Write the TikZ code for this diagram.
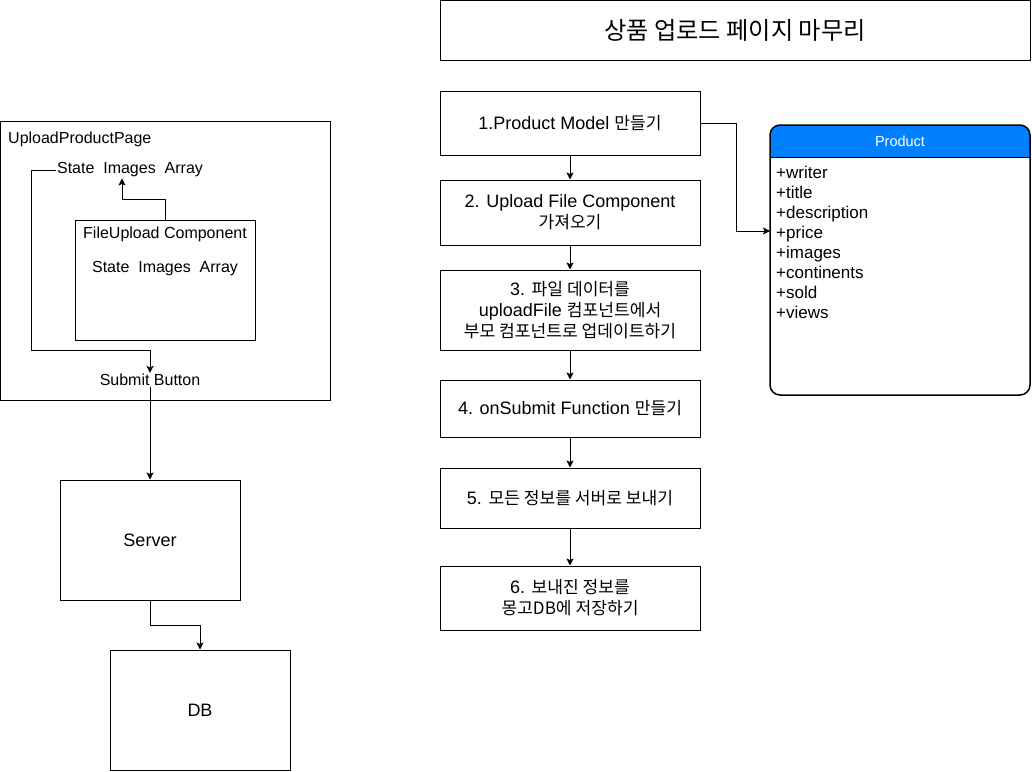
\documentclass[tikz,border=0pt]{standalone}
\usepackage{fontspec}
\setmainfont{Liberation Sans}
\newfontfamily\krfont[Scale=0.95]{Noto Sans CJK KR}
\newcommand{\kr}[1]{{\krfont #1}}
\usetikzlibrary{arrows.meta}
\definecolor{hdr}{RGB}{0,127,255}
\tikzset{
  box/.style={draw=black, line width=1pt, rectangle, inner sep=0pt, align=center, font=\fontsize{18}{21}\selectfont},
  lbl/.style={inner sep=1pt, font=\fontsize{16}{19}\selectfont},
  item/.style={anchor=base west, inner sep=0pt, font=\fontsize{17}{20}\selectfont},
  arr/.style={draw=black, line width=1pt, -{Stealth[length=7pt,width=7pt,inset=1.5pt]}},
  ln/.style={draw=black, line width=1pt}
}
\begin{document}
\begin{tikzpicture}[x=1pt,y=-1pt]
\useasboundingbox (0,0) rectangle (1032,771);
% title
\node[box, minimum width=590, minimum height=60, font=\fontsize{25.5}{30}\selectfont] (title) at (735,30) {\kr{상품 업로드 페이지 마무리}};
% steps
\node[box, minimum width=260, minimum height=64] (s1) at (570,123) {1.Product Model \kr{만들기}};
\node[box, minimum width=260, minimum height=65] (s2) at (570,212.5) {2. Upload File Component\\\kr{가져오기}};
\node[box, minimum width=260, minimum height=80] (s3) at (570,310) {3. \kr{파일 데이터를}\\uploadFile \kr{컴포넌트에서}\\\kr{부모 컴포넌트로 업데이트하기}};
\node[box, minimum width=260, minimum height=57] (s4) at (570,408.5) {4. onSubmit Function \kr{만들기}};
\node[box, minimum width=260, minimum height=60] (s5) at (570,498) {5. \kr{모든 정보를 서버로 보내기}};
\node[box, minimum width=260, minimum height=64] (s6) at (570,598) {6. \kr{보내진 정보를}\\\kr{몽고DB에 저장하기}};
\draw[arr] (s1) -- (s2);
\draw[arr] (s2) -- (s3);
\draw[arr] (s3) -- (s4);
\draw[arr] (s4) -- (s5);
\draw[arr] (s5) -- (s6);
% Product entity
\fill[hdr] (770,157) {[rounded corners=10] -- (770,125) -- (1030,125)} -- (1030,157) -- cycle;
\node[draw=black, line width=1.5pt, rounded corners=10, minimum width=260, minimum height=270, inner sep=0pt] (prod) at (900,260) {};
\draw[line width=1pt] (770,157) -- (1030,157);
\node[inner sep=0pt, text=white, font=\fontsize{14.5}{17}\selectfont] (ph) at (900,141) {Product};
\node[item] (p1) at (776,178) {+writer};
\node[item] (p2) at (776,198) {+title};
\node[item] (p3) at (776,218) {+description};
\node[item] (p4) at (776,238) {+price};
\node[item] (p5) at (776,258) {+images};
\node[item] (p6) at (776,278) {+continents};
\node[item] (p7) at (776,298) {+sold};
\node[item] (p8) at (776,318) {+views};
\coordinate (pin) at (770,231);
\draw[arr] (s1.east) -- ++(36,0) |- (pin);
% left side
\node[box, minimum width=330, minimum height=279] (page) at (165,260.5) {};
\node[anchor=west, lbl] (pt) at (7,139) {UploadProductPage};
\node[lbl] (st) at (130,170) {State\ \ Images\ \ Array};
\node[box, minimum width=180, minimum height=120] (fu) at (165,280) {};
\node[lbl] (fut) at (165,234) {FileUpload Component};
\node[lbl] (fus) at (165,269) {State\ \ Images\ \ Array};
\node[lbl] (sb) at (150,380) {Submit Button};
\draw[arr] (fu.north) -- ++(0,-20) -| ([xshift=-8pt]st.south);
\draw[arr] (st.west) -- (31,170) -- (31,350) -| (sb.north);
\node[box, minimum width=180, minimum height=120] (server) at (150,540) {Server};
\node[box, minimum width=180, minimum height=120] (db) at (200,710) {DB};
\draw[arr] (sb.south) -- (server.north);
\draw[arr] (server.south) -- ++(0,25) -| (db.north);
\end{tikzpicture}
\end{document}
